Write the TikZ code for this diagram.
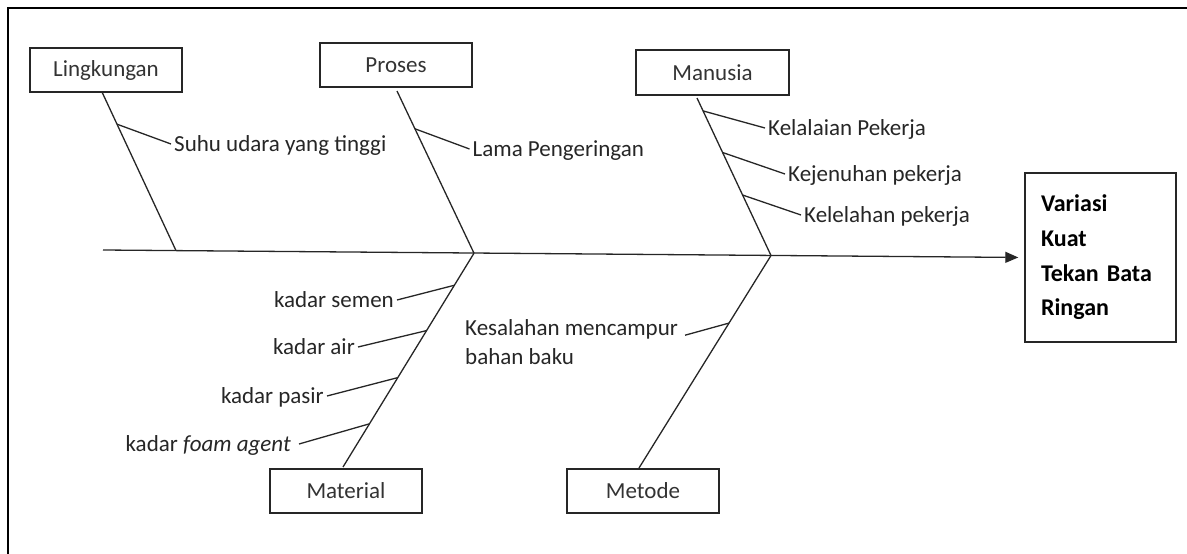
\documentclass[tikz,border=0pt]{standalone}
\usepackage{fontspec}
\setmainfont{Carlito}
\usetikzlibrary{arrows.meta,calc}
\begin{document}
\begin{tikzpicture}[x=1pt,y=-1pt,
  bone/.style={line width=1.3pt, draw=black!85},
  catbox/.style={draw=black!85, line width=1.4pt, minimum width=152pt, minimum height=44pt, inner sep=0pt, font=\fontsize{23}{27}\selectfont, text=black!80},
  lbl/.style={inner xsep=3pt, inner ysep=0pt, text height=14pt, text depth=0pt, font=\fontsize{23}{27}\selectfont, text=black!85},
]
\useasboundingbox (0,0) rectangle (1187,554);
\draw[line width=2pt] (1187,8) -- (8,8) -- (8,554);

% category boxes
\node[catbox] (ling) at (106,70) {Lingkungan};
\node[catbox] (pros) at (396,65) {Proses};
\node[catbox, minimum width=153pt, minimum height=45pt] (manu) at (712.5,72.5) {Manusia};
\node[catbox] (mate) at (346,491) {Material};
\node[catbox] (meto) at (643,491) {Metode};

% result
\node[draw=black!85, line width=1.4pt, minimum width=151pt, minimum height=169pt, text width=119pt, inner xsep=16pt, align=left, font=\bfseries\fontsize{24}{34.7}\selectfont] (res) at (1100.5,257.5) {Variasi\\Kuat\\Tekan Bata\\Ringan};

% spine
\coordinate (tail) at (103,250);
\draw[bone, -{Triangle[length=13pt,width=11pt]}, shorten >=6pt] (tail) -- (res.west);

\coordinate (J1) at (176,250.6);
\coordinate (J2) at (474,253.2);
\coordinate (J3) at (771,255.5);
\coordinate (LT) at (102,92);
\coordinate (PT) at (397,91);
\coordinate (MT) at (697,98);
\coordinate (MB) at (343,467);
\coordinate (EB) at (639,468);

\draw[bone] (LT) -- (J1);
\draw[bone] (PT) -- (J2);
\draw[bone] (MT) -- (J3);
\draw[bone] (J2) -- (MB);
\draw[bone] (J3) -- (EB);

% labels
\node[lbl, anchor=west] (suhu) at (171,144) {Suhu udara yang tinggi};
\node[lbl, anchor=west] (lama) at (469.5,149) {Lama Pengeringan};
\node[lbl, anchor=west] (kela) at (765,128) {Kelalaian Pekerja};
\node[lbl, anchor=west] (keje) at (785,174) {Kejenuhan pekerja};
\node[lbl, anchor=west] (kele) at (801,215) {Kelelahan pekerja};
\node[lbl, anchor=east] (seme) at (397,300) {kadar semen};
\node[lbl, anchor=east] (air) at (358,347) {kadar air};
\node[lbl, anchor=east] (pasi) at (327,396) {kadar pasir};
\node[lbl, anchor=east, inner xsep=8pt] (foam) at (299,444) {kadar \textit{foam agent}};
\node[lbl, anchor=west] (kes1) at (462,328) {Kesalahan mencampur};
\node[lbl, anchor=west] (kes2) at (462,357) {bahan baku};

% sub-branches
\draw[bone] ($(LT)!0.203!(J1)$) -- (suhu.west);
\draw[bone] ($(PT)!0.233!(J2)$) -- (lama.west);
\draw[bone] ($(MT)!0.082!(J3)$) -- (kela.west);
\draw[bone] ($(MT)!0.346!(J3)$) -- (keje.west);
\draw[bone] ($(MT)!0.616!(J3)$) -- (kele.west);
\draw[bone] ($(J2)!0.150!(MB)$) -- (seme.east);
\draw[bone] ($(J2)!0.362!(MB)$) -- (air.east);
\draw[bone] ($(J2)!0.582!(MB)$) -- (pasi.east);
\draw[bone] ($(J2)!0.798!(MB)$) -- (foam.east);
\draw[bone] ($(J3)!0.318!(EB)$) -- ([xshift=4pt]kes1.south east);
\end{tikzpicture}
\end{document}
